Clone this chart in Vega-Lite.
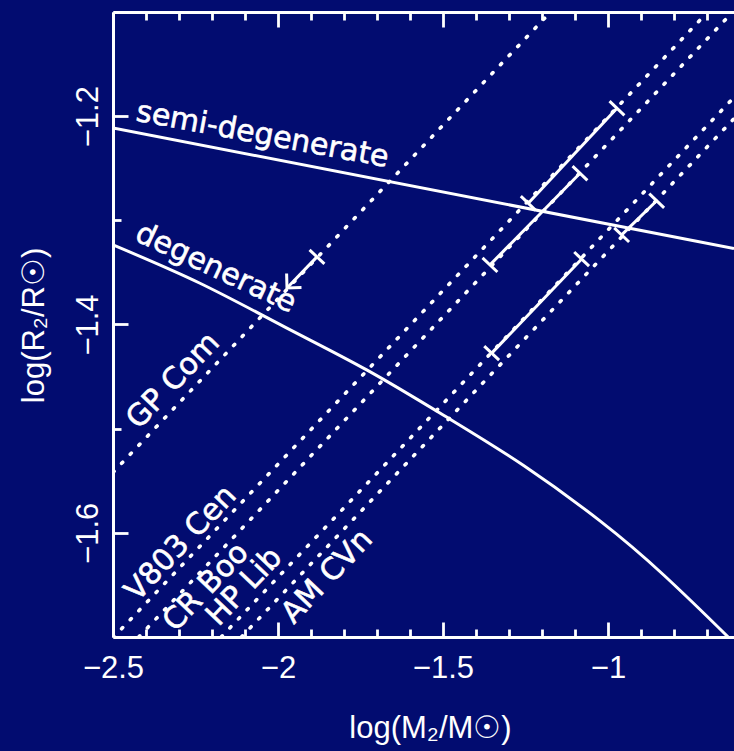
{
  "$schema": "https://vega.github.io/schema/vega-lite/v6.json",
  "width": 621,
  "height": 625,
  "autosize": "none",
  "padding": {"left": 113, "top": 12, "right": 0, "bottom": 114},
  "background": "#020c70",
  "config": {
    "view": {"stroke": null},
    "axis": {
      "grid": false,
      "domainColor": "white",
      "domainWidth": 3,
      "tickColor": "white",
      "tickWidth": 2.8,
      "labelColor": "white",
      "titleColor": "white",
      "labelFont": "Liberation Sans",
      "titleFont": "Liberation Sans",
      "labelFontSize": 31,
      "titleFontSize": 31,
      "titleFontWeight": "normal"
    }
  },
  "datasets": {
    "curves": [
      {"name": "semi-degenerate", "x": -2.5, "y": -1.2113},
      {"name": "semi-degenerate", "x": -0.618, "y": -1.327},
      {"name": "degenerate", "x": -2.5, "y": -1.3236},
      {"name": "degenerate", "x": -2.2364, "y": -1.3604},
      {"name": "degenerate", "x": -1.9788, "y": -1.4025},
      {"name": "degenerate", "x": -1.7312, "y": -1.4436},
      {"name": "degenerate", "x": -1.4839, "y": -1.4899},
      {"name": "degenerate", "x": -1.2545, "y": -1.5356},
      {"name": "degenerate", "x": -1.0242, "y": -1.5885},
      {"name": "degenerate", "x": -0.8303, "y": -1.6407},
      {"name": "degenerate", "x": -0.6364, "y": -1.6998},
      {"name": "degenerate", "x": -0.618, "y": -1.7058}
    ],
    "tracks": [
      {"star": "GP Com", "x": -2.5, "y": -1.542},
      {"star": "GP Com", "x": -1.174, "y": -1.1},
      {"star": "V803 Cen", "x": -2.5, "y": -1.7008},
      {"star": "V803 Cen", "x": -0.6978, "y": -1.1},
      {"star": "CR Boo", "x": -2.422, "y": -1.7},
      {"star": "CR Boo", "x": -0.622, "y": -1.1},
      {"star": "HP Lib", "x": -2.172, "y": -1.7},
      {"star": "HP Lib", "x": -0.618, "y": -1.1819},
      {"star": "AM CVn", "x": -2.1107, "y": -1.7},
      {"star": "AM CVn", "x": -0.618, "y": -1.2024}
    ],
    "bars": [
      {"star": "GP Com", "x": -1.8818, "y": -1.3351, "x2": -1.9727, "y2": -1.3649},
      {"star": "V803 Cen", "x": -0.9727, "y": -1.1924, "x2": -1.2415, "y2": -1.2836},
      {"star": "CR Boo", "x": -1.0848, "y": -1.2548, "x2": -1.3576, "y2": -1.3428},
      {"star": "HP Lib", "x": -1.0797, "y": -1.3372, "x2": -1.3524, "y2": -1.4275},
      {"star": "AM CVn", "x": -0.8524, "y": -1.2812, "x2": -0.9585, "y2": -1.314}
    ],
    "caps": [
      {"star": "GP Com", "x": -1.8818, "y": -1.3351},
      {"star": "V803 Cen", "x": -0.9727, "y": -1.1924},
      {"star": "V803 Cen", "x": -1.2415, "y": -1.2836},
      {"star": "CR Boo", "x": -1.0848, "y": -1.2548},
      {"star": "CR Boo", "x": -1.3576, "y": -1.3428},
      {"star": "HP Lib", "x": -1.0797, "y": -1.3372},
      {"star": "HP Lib", "x": -1.3524, "y": -1.4275},
      {"star": "AM CVn", "x": -0.8524, "y": -1.2812},
      {"star": "AM CVn", "x": -0.9585, "y": -1.314}
    ],
    "arrows": [
      {"star": "GP Com", "x": -1.9727, "y": -1.3649}
    ],
    "labels": [
      {"group": "semi", "text": "semi-degenerate", "x": -2.047, "y": -1.218},
      {"group": "deg", "text": "degenerate", "x": -2.1885, "y": -1.346},
      {"group": "star", "text": "GP Com", "x": -2.3173, "y": -1.4541},
      {"group": "star", "text": "V803 Cen", "x": -2.2945, "y": -1.6101},
      {"group": "star", "text": "CR Boo", "x": -2.2182, "y": -1.6521},
      {"group": "star", "text": "HP Lib", "x": -2.1015, "y": -1.6518},
      {"group": "star", "text": "AM CVn", "x": -1.8506, "y": -1.6419}
    ]
  },
  "resolve": {"axis": {"x": "independent", "y": "independent"}},
  "layer": [
    {
      "data": {"name": "curves"},
      "transform": [{"filter": "datum.name === 'semi-degenerate'"}],
      "mark": {"type": "line", "color": "white", "strokeWidth": 3, "clip": true},
      "encoding": {
        "x": {"field": "x", "type": "quantitative", "scale": {"domain": [-2.5, -0.618], "nice": false, "zero": false},
          "axis": {"orient": "bottom", "values": [-2.5, -2, -1.5, -1], "format": "~g", "ticks": false, "tickSize": 0, "labelPadding": 40, "labelBaseline": "alphabetic", "labelFlush": false, "labelOverlap": false, "domain": true,
            "title": "log(M₂/M☉)", "titleX": 317, "titleY": 100, "titleBaseline": "alphabetic", "titleAlign": "center", "titleAnchor": null}},
        "y": {"field": "y", "type": "quantitative", "scale": {"domain": [-1.7, -1.1], "nice": false, "zero": false},
          "axis": {"orient": "left", "values": [-1.6, -1.4, -1.2], "format": "~g", "ticks": false, "tickSize": 0, "labelPadding": 16, "labelAngle": -90, "labelAlign": "center", "labelBaseline": "alphabetic", "labelFlush": false, "labelOverlap": false, "domain": true,
            "title": "log(R₂/R☉)", "titleX": -70, "titleY": 313, "titleAngle": -90, "titleBaseline": "alphabetic", "titleAlign": "center"}}
      }
    },
    {
      "data": {"name": "curves"},
      "transform": [{"filter": "datum.name === 'degenerate'"}],
      "mark": {"type": "line", "color": "white", "strokeWidth": 3, "clip": true, "interpolate": "natural"},
      "encoding": {
        "x": {"field": "x", "type": "quantitative", "scale": {"domain": [-2.5, -0.618], "nice": false, "zero": false},
          "axis": {"orient": "bottom", "values": [-2.5, -2, -1.5, -1], "labels": false, "title": null, "domain": false, "tickSize": -15}},
        "y": {"field": "y", "type": "quantitative", "scale": {"domain": [-1.7, -1.1], "nice": false, "zero": false},
          "axis": {"orient": "left", "values": [-1.6, -1.4, -1.2], "labels": false, "title": null, "domain": false, "tickSize": -15}}
      }
    },
    {
      "data": {"name": "tracks"},
      "mark": {"type": "line", "color": "white", "strokeWidth": 3.6, "strokeDash": [1.6, 10.9], "strokeCap": "round", "clip": true},
      "encoding": {
        "x": {"field": "x", "type": "quantitative", "scale": {"domain": [-2.5, -0.618], "nice": false, "zero": false},
          "axis": {"orient": "bottom", "values": [-2.4, -2.3, -2.2, -2.1, -1.9, -1.8, -1.7, -1.6, -1.4, -1.3, -1.2, -1.1, -0.9, -0.8, -0.7], "labels": false, "title": null, "domain": false, "tickSize": -8}},
        "y": {"field": "y", "type": "quantitative", "scale": {"domain": [-1.7, -1.1], "nice": false, "zero": false},
          "axis": {"orient": "left", "values": [-1.7, -1.5, -1.3, -1.1], "labels": false, "title": null, "domain": false, "tickSize": -8}},
        "detail": {"field": "star", "type": "nominal"}
      }
    },
    {
      "data": {"name": "bars"},
      "mark": {"type": "rule", "color": "white", "strokeWidth": 3, "clip": true},
      "encoding": {
        "x": {"field": "x", "type": "quantitative", "scale": {"domain": [-2.5, -0.618], "nice": false, "zero": false},
          "axis": {"orient": "top", "values": [-2.5, -2, -1.5, -1], "labels": false, "title": null, "domain": true, "tickSize": -15}},
        "y": {"field": "y", "type": "quantitative", "scale": {"domain": [-1.7, -1.1], "nice": false, "zero": false}, "axis": null},
        "x2": {"field": "x2"},
        "y2": {"field": "y2"}
      }
    },
    {
      "data": {"name": "caps"},
      "mark": {"type": "point", "shape": "M-1,0L1,0", "angle": 43.5, "size": 420, "filled": false, "color": "white", "strokeWidth": 3, "opacity": 1},
      "encoding": {
        "x": {"field": "x", "type": "quantitative", "scale": {"domain": [-2.5, -0.618], "nice": false, "zero": false},
          "axis": {"orient": "top", "values": [-2.4, -2.3, -2.2, -2.1, -1.9, -1.8, -1.7, -1.6, -1.4, -1.3, -1.2, -1.1, -0.9, -0.8, -0.7], "labels": false, "title": null, "domain": false, "tickSize": -8}},
        "y": {"field": "y", "type": "quantitative", "scale": {"domain": [-1.7, -1.1], "nice": false, "zero": false}, "axis": null}
      }
    },
    {
      "data": {"name": "arrows"},
      "mark": {"type": "point", "shape": "M-1,-1L0,0L-1,1", "angle": 133.5, "size": 420, "filled": false, "color": "white", "strokeWidth": 3, "opacity": 1},
      "encoding": {
        "x": {"field": "x", "type": "quantitative", "scale": {"domain": [-2.5, -0.618], "nice": false, "zero": false}, "axis": null},
        "y": {"field": "y", "type": "quantitative", "scale": {"domain": [-1.7, -1.1], "nice": false, "zero": false}, "axis": null}
      }
    },
    {
      "data": {"name": "labels"},
      "transform": [{"filter": "datum.group === 'semi'"}],
      "mark": {"type": "text", "angle": 10.5, "font": "DejaVu Sans", "fontSize": 30, "color": "white", "stroke": "white", "strokeWidth": 0.6, "align": "center", "baseline": "middle"},
      "encoding": {
        "x": {"field": "x", "type": "quantitative", "scale": {"domain": [-2.5, -0.618], "nice": false, "zero": false}, "axis": null},
        "y": {"field": "y", "type": "quantitative", "scale": {"domain": [-1.7, -1.1], "nice": false, "zero": false}, "axis": null},
        "text": {"field": "text", "type": "nominal"}
      }
    },
    {
      "data": {"name": "labels"},
      "transform": [{"filter": "datum.group === 'deg'"}],
      "mark": {"type": "text", "angle": 25, "font": "DejaVu Sans", "fontSize": 30, "color": "white", "stroke": "white", "strokeWidth": 0.6, "align": "center", "baseline": "middle"},
      "encoding": {
        "x": {"field": "x", "type": "quantitative", "scale": {"domain": [-2.5, -0.618], "nice": false, "zero": false}, "axis": null},
        "y": {"field": "y", "type": "quantitative", "scale": {"domain": [-1.7, -1.1], "nice": false, "zero": false}, "axis": null},
        "text": {"field": "text", "type": "nominal"}
      }
    },
    {
      "data": {"name": "labels"},
      "transform": [{"filter": "datum.group === 'star'"}],
      "mark": {"type": "text", "angle": -46.5, "font": "DejaVu Sans", "fontSize": 30, "color": "white", "stroke": "white", "strokeWidth": 0.6, "align": "center", "baseline": "middle"},
      "encoding": {
        "x": {"field": "x", "type": "quantitative", "scale": {"domain": [-2.5, -0.618], "nice": false, "zero": false}, "axis": null},
        "y": {"field": "y", "type": "quantitative", "scale": {"domain": [-1.7, -1.1], "nice": false, "zero": false}, "axis": null},
        "text": {"field": "text", "type": "nominal"}
      }
    }
  ]
}
